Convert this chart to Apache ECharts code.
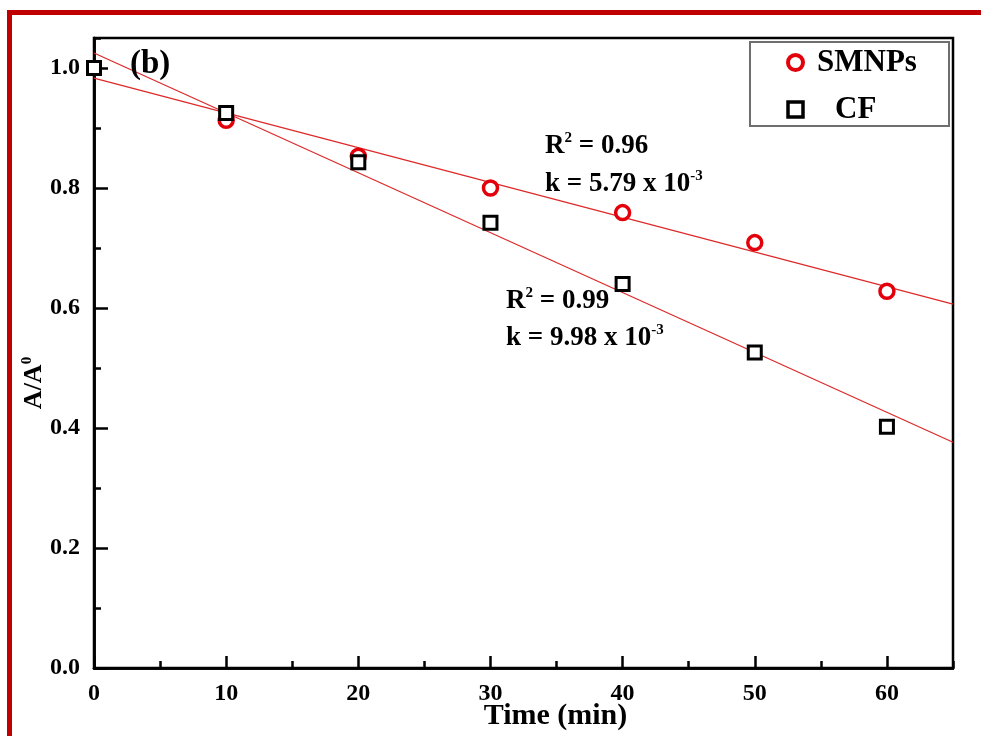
<!DOCTYPE html>
<html>
<head>
<meta charset="utf-8">
<title>A/A0 vs Time</title>
<script src="https://cdn.jsdelivr.net/npm/echarts@6/dist/echarts.min.js"></script>
<style>
  html, body { margin: 0; padding: 0; background: #fff; }
  #chart { width: 981px; height: 736px; }
</style>
</head>
<body>
<div id="chart"></div>
<script>
// Measured absorbance ratio A/A0 over irradiation time
const timeSMNPs = [10, 20, 30, 40, 50, 60];
const valSMNPs = [0.913, 0.853, 0.800, 0.759, 0.709, 0.628];
const timeCF = [0, 10, 20, 30, 40, 50, 60];
const valCF = [1.000, 0.925, 0.843, 0.742, 0.640, 0.526, 0.402];

// Linear fits: slope k (per min) and intercept for each sample
const fitNames = ['SMNPs fit', 'CF fit'];
const fitSlope = [-5.79e-3, -9.98e-3];
const fitIntercept = [0.983, 1.025];
const fitRange = [0, 65];

// Axis ticks
const xMax = 65, xMajor = 10, xMinor = 5;
const yMax = 1.05, yMajor = 0.2, yMinor = 0.1;

const FONT = "'Liberation Serif', 'Times New Roman', serif";
const RED = '#e3000b';

function zip(xs, ys) { return xs.map((x, i) => [x, ys[i]]); }
function fitLine(i) {
  return fitRange.map(x => [x, fitIntercept[i] + fitSlope[i] * x]);
}

const supRich = {
  a: { fill: '#000', fontFamily: FONT, fontWeight: 'bold', fontSize: 27, lineHeight: 30 },
  s: { fill: '#000', fontFamily: FONT, fontWeight: 'bold', fontSize: 15, lineHeight: 15, verticalAlign: 'top' }
};

const chart = echarts.init(document.getElementById('chart'));

const baseAxis = {
  type: 'value',
  min: 0,
  axisLine: { show: true, onZero: false, lineStyle: { color: '#000', width: 2.5 } },
  splitLine: { show: false }
};

const option = {
  backgroundColor: '#fff',
  animation: false,
  grid: {
    left: 94, right: 28, top: 38, bottom: 68,
    containLabel: false, outerBoundsMode: 'none',
    show: true, borderColor: '#000', borderWidth: 2.5, backgroundColor: 'transparent'
  },
  xAxis: [
    Object.assign({}, baseAxis, {
      max: xMax, interval: xMajor, position: 'bottom',
      axisTick: { show: true, inside: true, length: 12, lineStyle: { color: '#000', width: 2.5 } },
      axisLabel: {
        showMaxLabel: false, margin: 14,
        color: '#000', fontFamily: FONT, fontWeight: 'bold', fontSize: 24
      },
      name: 'Time (min)',
      nameLocation: 'middle',
      nameGap: 33,
      nameMoveOverlap: false,
      nameTextStyle: {
        color: '#000', fontFamily: FONT, fontWeight: 'bold', fontSize: 30,
        padding: [0, 0, 0, 64]
      }
    }),
    Object.assign({}, baseAxis, {
      max: xMax, interval: xMinor, position: 'bottom',
      axisTick: { show: true, inside: true, length: 7, lineStyle: { color: '#000', width: 2.5 } },
      axisLabel: { show: false }
    })
  ],
  yAxis: [
    Object.assign({}, baseAxis, {
      max: yMax, interval: yMajor, position: 'left',
      axisTick: { show: true, inside: true, length: 14, lineStyle: { color: '#000', width: 2.5 } },
      axisLabel: {
        showMaxLabel: false, margin: 14,
        formatter: v => v.toFixed(1),
        color: '#000', fontFamily: FONT, fontWeight: 'bold', fontSize: 24
      },
      name: '{a|A/A}{s|0}',
      nameLocation: 'middle',
      nameGap: 46,
      nameMoveOverlap: false,
      nameRotate: 90,
      nameTextStyle: {
        padding: [0, 60, 0, 0],
        rich: {
          a: { color: '#000', fontFamily: FONT, fontWeight: 'bold', fontSize: 26, lineHeight: 28 },
          s: { color: '#000', fontFamily: FONT, fontWeight: 'bold', fontSize: 15, lineHeight: 15, verticalAlign: 'top' }
        }
      }
    }),
    Object.assign({}, baseAxis, {
      max: yMax, interval: yMinor, position: 'left', offset: 0,
      axisTick: { show: true, inside: true, length: 7, lineStyle: { color: '#000', width: 2.5 } },
      axisLabel: { show: false }
    })
  ],
  legend: {
    orient: 'vertical',
    left: 781, top: 42,
    itemWidth: 15, itemHeight: 15, itemGap: 16,
    z: 10,
    textStyle: {
      color: '#000', fontFamily: FONT, fontWeight: 'bold', fontSize: 31,
      lineHeight: 30, padding: [0, 0, 0, 9]
    },
    data: [
      { name: 'SMNPs', itemStyle: { borderWidth: 4 } },
      { name: 'CF', itemStyle: { borderWidth: 3.5 }, textStyle: { padding: [0, 0, 0, 27] } }
    ]
  },
  graphic: [
    // outer frame
    { type: 'rect', z: 100, silent: true, shape: { x: 7, y: 10, width: 981, height: 5 }, style: { fill: '#c00000' } },
    { type: 'rect', z: 100, silent: true, shape: { x: 7, y: 10, width: 5, height: 736 }, style: { fill: '#c00000' } },
    // legend frame
    { type: 'rect', z: 5, silent: true, shape: { x: 750, y: 42, width: 199, height: 84 },
      style: { fill: '#fff', stroke: '#6e6e6e', lineWidth: 2 } },
    // panel tag and fit annotations
    {
      type: 'text', z: 20, left: 130, top: 48,
      style: { text: '(b)', fill: '#000', font: "bold 33px 'Liberation Serif', serif" }
    },
    { type: 'text', z: 20, left: 545, top: 131, style: { text: '{a|R}{s|2}{a| = 0.96}', rich: supRich } },
    { type: 'text', z: 20, left: 545, top: 169, style: { text: '{a|k = 5.79 x 10}{s|-3}', rich: supRich } },
    { type: 'text', z: 20, left: 506, top: 286, style: { text: '{a|R}{s|2}{a| = 0.99}', rich: supRich } },
    { type: 'text', z: 20, left: 506, top: 323, style: { text: '{a|k = 9.98 x 10}{s|-3}', rich: supRich } }
  ],
  series: [
    {
      name: fitNames[0], type: 'line', data: fitLine(0), showSymbol: false, symbol: 'none',
      lineStyle: { color: '#dd2a2a', width: 1.3 }, z: 2, silent: true
    },
    {
      name: fitNames[1], type: 'line', data: fitLine(1), showSymbol: false, symbol: 'none',
      lineStyle: { color: '#dd2a2a', width: 1.3 }, z: 2, silent: true
    },
    {
      name: 'SMNPs', type: 'scatter', data: zip(timeSMNPs, valSMNPs),
      symbol: 'circle', symbolSize: 14, clip: false, z: 3,
      itemStyle: { color: '#fff', borderColor: RED, borderWidth: 3.5, opacity: 1 }
    },
    {
      name: 'CF', type: 'scatter', data: zip(timeCF, valCF),
      symbol: 'rect', symbolSize: 13, clip: false, z: 4,
      itemStyle: { color: '#fff', borderColor: '#000', borderWidth: 3, opacity: 1 }
    }
  ]
};

chart.setOption(option);
</script>
</body>
</html>
